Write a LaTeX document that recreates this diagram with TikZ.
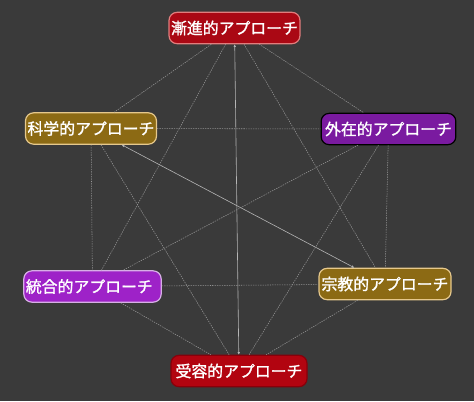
\documentclass[tikz,border=0pt]{standalone}
\usepackage{fontspec}
\newfontfamily\jpfont[FakeBold=1.3]{Noto Sans CJK JP}
\usetikzlibrary{arrows.meta}

\definecolor{bgc}{RGB}{58,58,58}
\definecolor{linec}{RGB}{150,150,150}
\definecolor{redfill}{RGB}{170,8,20}
\definecolor{redline}{RGB}{225,125,125}
\definecolor{redfilltwo}{RGB}{178,4,16}
\definecolor{redlinetwo}{RGB}{135,0,10}
\definecolor{goldfill}{RGB}{140,106,20}
\definecolor{goldline}{RGB}{230,200,140}
\definecolor{violetfill}{RGB}{122,26,160}
\definecolor{purplefill}{RGB}{158,34,200}
\definecolor{purpleline}{RGB}{215,175,230}

\tikzset{every picture/.style={line width=0.75pt}}
\tikzset{
  approach/.style={rounded corners=6pt, line width=0.9pt, text=white,
    font=\jpfont\fontsize{11.9}{13}\selectfont, minimum height=23.5pt,
    inner xsep=1.5pt, inner ysep=0pt},
  link/.style={draw=linec, line width=0.4pt, dash pattern=on 1pt off 0.8pt},
  twoway/.style={draw=linec!70!white, line width=0.45pt,
    {Latex[length=2pt,width=2pt]}-{Latex[length=2pt,width=2pt]}}
}

\begin{document}
\begin{tikzpicture}[x=0.75pt,y=0.75pt,yscale=-1,xscale=1]
%set diagram left start at 0, and has height of 401
\fill [bgc] (0,0) rectangle (474,401);

% Text Node
\node (zen) at (234.5,28) [approach, fill=redfill, draw=redline, minimum width=96.5pt] {漸進的アプローチ};
% Text Node
\node (kag) at (91,128.5) [approach, fill=goldfill, draw=goldline, minimum width=97.5pt] {科学的アプローチ};
% Text Node
\node (gai) at (388.5,129) [approach, fill=violetfill, draw=black, minimum width=101pt] {外在的アプローチ};
% Text Node
\node (tou) at (92.5,286.5) [approach, fill=purplefill, draw=purpleline, text width=100pt, align=left] {統合的アプローチ};
% Text Node
\node (shu) at (385,284) [approach, fill=goldfill, draw=goldline, minimum width=99pt] {宗教的アプローチ};
% Text Node
\node (ju) at (239,371) [approach, fill=redfilltwo, draw=redlinetwo, minimum width=102pt] {受容的アプローチ};

%Straight Lines
\draw [link] (zen) -- (kag) ;
\draw [link] (zen) -- (gai) ;
\draw [link] (zen) -- (tou) ;
\draw [link] (zen) -- (shu) ;
\draw [twoway] (ju) -- (zen) ;
%Straight Lines
\draw [link] (kag) -- (gai) ;
\draw [link] (kag) -- (tou) ;
\draw [twoway] (kag) -- (shu) ;
\draw [link] (kag) -- (ju) ;
%Straight Lines
\draw [link] (gai) -- (tou) ;
\draw [link] (gai) -- (shu) ;
\draw [link] (gai) -- (ju) ;
%Straight Lines
\draw [link] (tou) -- (shu) ;
\draw [link] (tou) -- (ju) ;
\draw [link] (shu) -- (ju) ;

\end{tikzpicture}
\end{document}
